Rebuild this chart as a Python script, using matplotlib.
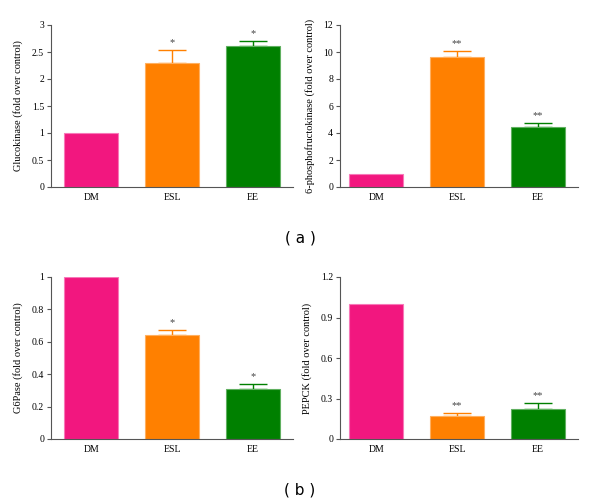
import matplotlib
matplotlib.use("Agg")
import matplotlib.pyplot as plt

categories = ["DM", "ESL", "EE"]
colors = ["#F2177F", "#FF8000", "#008000"]
edge_colors = ["#F878B8", "#FFB060", "#60B060"]

glucokinase = [1.0, 2.30, 2.62]
glucokinase_err = [0.0, 0.24, 0.08]
glucokinase_sig = ["", "*", "*"]

pfk = [1.0, 9.65, 4.45]
pfk_err = [0.0, 0.40, 0.27]
pfk_sig = ["", "**", "**"]

g6pase = [1.0, 0.64, 0.31]
g6pase_err = [0.0, 0.03, 0.03]
g6pase_sig = ["", "*", "*"]

pepck = [1.0, 0.17, 0.225]
pepck_err = [0.0, 0.025, 0.045]
pepck_sig = ["", "**", "**"]

plt.rcParams['font.family'] = ['Liberation Serif', 'DejaVu Serif']

fig = plt.figure(figsize=(6, 5.04), dpi=100)

panels = [
    (glucokinase, glucokinase_err, glucokinase_sig, "Glucokinase (fold over control)", (0, 3), [0, 0.5, 1, 1.5, 2, 2.5, 3], ["0", "0.5", "1", "1.5", "2", "2.5", "3"], [51/600, 1-187/504, 242/600, 162/504]),
    (pfk, pfk_err, pfk_sig, "6-phosphofructokinase (fold over control)", (0, 12), [0, 2, 4, 6, 8, 10, 12], ["0", "2", "4", "6", "8", "10", "12"], [340/600, 1-187/504, 238/600, 162/504]),
    (g6pase, g6pase_err, g6pase_sig, "G6Pase (fold over control)", (0, 1), [0, 0.2, 0.4, 0.6, 0.8, 1], ["0", "0.2", "0.4", "0.6", "0.8", "1"], [51/600, 1-439/504, 242/600, 162/504]),
    (pepck, pepck_err, pepck_sig, "PEPCK (fold over control)", (0, 1.2), [0, 0.3, 0.6, 0.9, 1.2], ["0", "0.3", "0.6", "0.9", "1.2"], [340/600, 1-439/504, 238/600, 162/504]),
]

for vals, errs, sigs, ylabel, ylim, yticks, yticklabels, rect in panels:
    ax = fig.add_axes(rect)
    x = list(range(len(categories)))
    ax.bar(x, vals, width=0.667, color=colors, edgecolor=edge_colors, linewidth=0.8, zorder=2)
    for xi, v, e, c, s in zip(x, vals, errs, colors, sigs):
        if e > 0:
            ax.errorbar(xi, v, yerr=[[0], [e]], color=c, capsize=10, elinewidth=1.0, capthick=1.0, zorder=1)
        if s:
            ax.text(xi, v + e + (ylim[1] * 0.018), s, ha='center', va='bottom', fontsize=7.5, color='#444444')
    ax.set_xlim(-0.5 if rect[0] < 0.3 else -0.45, 2.5)
    ax.set_ylim(*ylim)
    ax.set_yticks(yticks)
    ax.set_yticklabels(yticklabels)
    ax.set_xticks(x)
    ax.set_xticklabels(categories)
    ax.set_ylabel(ylabel, fontsize=7.5, labelpad=6)
    for sp in ['top', 'right']:
        ax.spines[sp].set_visible(False)
    for sp in ['left', 'bottom']:
        ax.spines[sp].set_color('#555555')
        ax.spines[sp].set_linewidth(0.8)
    ax.tick_params(axis='y', direction='out', length=3, width=0.8, color='#555555', labelsize=7, pad=2)
    ax.tick_params(axis='x', length=0, labelsize=7, pad=4)

fig.text(0.5, 1-238/504, "( a )", ha='center', va='center', fontsize=11, family='DejaVu Sans')
fig.text(0.5, 1-490/504, "( b )", ha='center', va='center', fontsize=11, family='DejaVu Sans')

fig.savefig("out.png", dpi=100)
